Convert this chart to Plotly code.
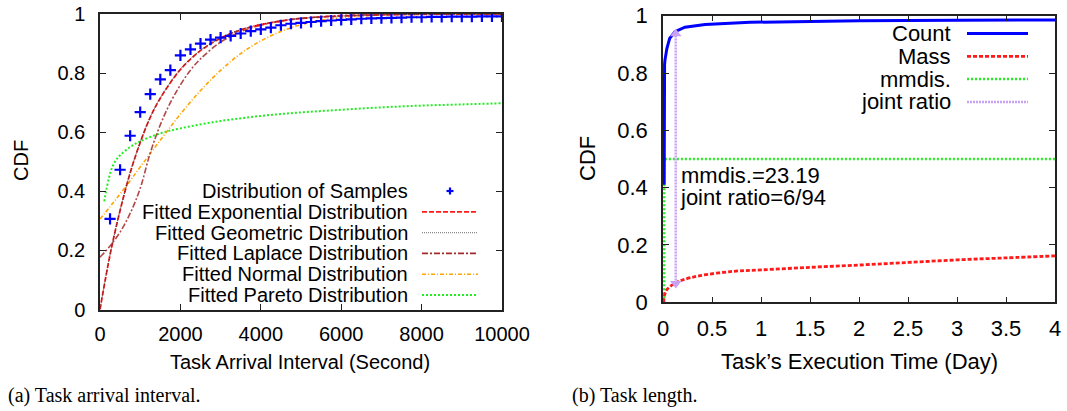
import plotly.graph_objects as go

W, H = 1067, 411

# ---------------- Left panel data: Task arrival interval ----------------
sample_x = [250 * k for k in range(1, 41)]
sample_y = [0.307, 0.473, 0.588, 0.668, 0.729, 0.779, 0.810, 0.860, 0.880, 0.900,
            0.913, 0.920, 0.926, 0.934, 0.942, 0.948, 0.954, 0.962, 0.967, 0.970,
            0.973, 0.976, 0.978, 0.980, 0.982, 0.984, 0.985, 0.986, 0.987, 0.988,
            0.989, 0.989, 0.990, 0.990, 0.991, 0.991, 0.991, 0.992, 0.992, 0.992]

expo_x = [0, 250, 500, 750, 1000, 1250, 1500, 2000, 2500, 3000, 3500, 4000, 4500, 5000, 6000, 7000, 8000, 10000]
expo_y = [0.0, 0.185, 0.335, 0.462, 0.565, 0.650, 0.715, 0.812, 0.876, 0.918, 0.946, 0.964, 0.976, 0.985, 0.993, 0.997, 0.999, 1.0]

geom_x = [0, 250, 500, 750, 1000, 1250, 1500, 2000, 2500, 3000, 3500, 4000, 4500, 5000, 6000, 7000, 8000, 10000]
geom_y = [0.0, 0.186, 0.336, 0.463, 0.566, 0.651, 0.716, 0.813, 0.877, 0.919, 0.947, 0.965, 0.977, 0.985, 0.993, 0.997, 0.999, 1.0]

lapl_x = [0, 250, 500, 750, 1000, 1250, 1500, 1750, 2000, 2250, 2500, 3000, 3500, 4000, 4500, 5000, 6000, 7000, 8000, 10000]
lapl_y = [0.177, 0.215, 0.262, 0.325, 0.41, 0.53, 0.625, 0.700, 0.760, 0.810, 0.848, 0.905, 0.940, 0.962, 0.976, 0.985, 0.995, 0.998, 0.999, 1.0]

norm_x = [0, 250, 500, 750, 1000, 1500, 2000, 2500, 3000, 3500, 4000, 4500, 5000, 5500, 6000, 7000, 8000, 10000]
norm_y = [0.306, 0.348, 0.391, 0.436, 0.482, 0.573, 0.661, 0.741, 0.809, 0.866, 0.909, 0.941, 0.964, 0.979, 0.988, 0.997, 0.999, 1.0]

pare_x = [107, 150, 232, 300, 398, 500, 750, 1000, 1500, 2000, 3000, 4000, 5000, 6000, 7000, 8000, 9000, 10000]
pare_y = [0.366, 0.40, 0.45, 0.48, 0.505, 0.522, 0.55, 0.569, 0.596, 0.613, 0.638, 0.655, 0.667, 0.676, 0.684, 0.690, 0.694, 0.698]

left_xticks = [0, 2000, 4000, 6000, 8000, 10000]
left_xticklabels = ["0", "2000", "4000", "6000", "8000", "10000"]
yticks = [0, 0.2, 0.4, 0.6, 0.8, 1]
yticklabels = ["0", "0.2", "0.4", "0.6", "0.8", "1"]

# ---------------- Right panel data: Task length ----------------
count_x = [0.012, 0.012, 0.016, 0.02, 0.027, 0.04, 0.068, 0.122, 0.224, 0.43, 0.888, 1.5, 2, 3, 4]
count_y = [0.41, 0.80, 0.83, 0.845, 0.865, 0.886, 0.921, 0.944, 0.960, 0.969, 0.977, 0.980, 0.982, 0.984, 0.985]

mass_x = [0.005, 0.01, 0.02, 0.037, 0.08, 0.122, 0.2, 0.378, 0.718, 1.0, 1.5, 2.0, 2.5, 3.0, 3.5, 4.0]
mass_y = [0.0, 0.015, 0.03, 0.043, 0.057, 0.066, 0.078, 0.093, 0.108, 0.113, 0.122, 0.130, 0.139, 0.148, 0.155, 0.162]

mmdis_x = [0.012, 0.012, 4]
mmdis_y = [0.0, 0.5, 0.5]

joint_x = [0.13, 0.13]
joint_y = [0.066, 0.937]

right_xticks = [0, 0.5, 1, 1.5, 2, 2.5, 3, 3.5, 4]
right_xticklabels = ["0", "0.5", "1", "1.5", "2", "2.5", "3", "3.5", "4"]

mmdis_label = "mmdis.=23.19"
joint_label = "joint ratio=6/94"

left_legend = ["Distribution of Samples", "Fitted Exponential Distribution",
               "Fitted Geometric Distribution", "Fitted Laplace Distribution",
               "Fitted Normal Distribution", "Fitted Pareto Distribution"]
right_legend = ["Count", "Mass", "mmdis.", "joint ratio"]

# ---------------- styling ----------------
FONT = "Liberation Sans, Arial, Helvetica, sans-serif"
C_BLUE = "#0000ff"
C_RED = "#ff1a1a"
C_GEOM = "#333333"
C_LAPL = "#a52a2a"
C_NORM = "#ffa500"
C_PARE = "#22ee22"
C_JOINT = "#c9a2f5"


def px(x):
    return x / W


def py(y):
    return 1 - y / H


fig = go.Figure()

# left traces
fig.add_trace(go.Scatter(x=pare_x, y=pare_y, mode="lines", line=dict(color=C_PARE, width=2, dash="2px,2px", shape="spline"),
                         xaxis="x", yaxis="y", showlegend=False))
fig.add_trace(go.Scatter(x=norm_x, y=norm_y, mode="lines", line=dict(color=C_NORM, width=1.6, dash="4px,2px,1px,2px", shape="spline"),
                         xaxis="x", yaxis="y", showlegend=False))
fig.add_trace(go.Scatter(x=lapl_x, y=lapl_y, mode="lines", line=dict(color=C_LAPL, width=1.6, dash="6px,2px,2px,2px", shape="spline"),
                         opacity=0.85, xaxis="x", yaxis="y", showlegend=False))
fig.add_trace(go.Scatter(x=expo_x, y=expo_y, mode="lines", line=dict(color=C_RED, width=1.8, dash="5px,2px", shape="spline"),
                         xaxis="x", yaxis="y", showlegend=False))
fig.add_trace(go.Scatter(x=geom_x, y=geom_y, mode="lines", line=dict(color=C_GEOM, width=1, dash="1px,1px", shape="spline"),
                         xaxis="x", yaxis="y", showlegend=False))
fig.add_trace(go.Scatter(x=sample_x, y=sample_y, mode="markers",
                         marker=dict(symbol="cross-thin", size=8, line=dict(color=C_BLUE, width=2.2)),
                         xaxis="x", yaxis="y", showlegend=False))

# right traces
fig.add_trace(go.Scatter(x=mmdis_x, y=mmdis_y, mode="lines", line=dict(color=C_PARE, width=2.5, dash="2px,2px"),
                         xaxis="x2", yaxis="y2", showlegend=False))
fig.add_trace(go.Scatter(x=mass_x, y=mass_y, mode="lines", line=dict(color=C_RED, width=2.8, dash="4px,2px", shape="spline"),
                         xaxis="x2", yaxis="y2", showlegend=False))
fig.add_trace(go.Scatter(x=count_x, y=count_y, mode="lines", line=dict(color=C_BLUE, width=3),
                         xaxis="x2", yaxis="y2", showlegend=False))
fig.add_trace(go.Scatter(x=joint_x, y=joint_y, mode="lines+markers",
                         line=dict(color=C_JOINT, width=2.5, dash="2px,1px"),
                         marker=dict(symbol=["triangle-down", "triangle-up"], size=10, color=C_JOINT),
                         xaxis="x2", yaxis="y2", showlegend=False))

axis_common = dict(showline=True, linecolor="#222222", linewidth=1.5, mirror="ticks", ticks="inside",
                   ticklen=6, tickcolor="#222222", showgrid=False, zeroline=False, automargin=False)

fig.update_layout(
    width=W, height=H,
    margin=dict(l=0, r=0, t=0, b=0, autoexpand=False),
    paper_bgcolor="white", plot_bgcolor="white",
    showlegend=False,
    xaxis=dict(domain=[px(100), px(502)], range=[0, 10000], tickvals=left_xticks, ticktext=left_xticklabels,
               anchor="y", tickfont=dict(family=FONT, size=20, color="black"), ticklabelstandoff=6, **axis_common),
    yaxis=dict(domain=[py(309.5), py(14)], range=[0, 1], tickvals=yticks, ticktext=yticklabels,
               anchor="x", tickfont=dict(family=FONT, size=20, color="black"), ticklabelstandoff=9, **axis_common),
    xaxis2=dict(domain=[px(663), px(1055)], range=[0, 4], tickvals=right_xticks, ticktext=right_xticklabels,
                anchor="y2", tickfont=dict(family=FONT, size=22, color="black"), ticklabelstandoff=6, **axis_common),
    yaxis2=dict(domain=[py(302.3), py(15.7)], range=[0, 1], tickvals=yticks, ticktext=yticklabels,
                anchor="x2", tickfont=dict(family=FONT, size=22, color="black"), ticklabelstandoff=9, **axis_common),
)

ann = []
shapes = []

# axis titles
ann.append(dict(text="CDF", x=px(21), y=py(161), xref="paper", yref="paper", showarrow=False,
                textangle=-90, font=dict(family=FONT, size=20, color="black"), xanchor="center", yanchor="middle"))
ann.append(dict(text="Task Arrival Interval (Second)", x=px(300), y=py(362), xref="paper", yref="paper",
                showarrow=False, font=dict(family=FONT, size=20, color="black"), xanchor="center", yanchor="middle"))
ann.append(dict(text="CDF", x=px(587), y=py(159), xref="paper", yref="paper", showarrow=False,
                textangle=-90, font=dict(family=FONT, size=22, color="black"), xanchor="center", yanchor="middle"))
ann.append(dict(text="Task’s Execution Time (Day)", x=px(859), y=py(361), xref="paper", yref="paper",
                showarrow=False, font=dict(family=FONT, size=22, color="black"), xanchor="center", yanchor="middle"))

# captions
CAP_FONT = "Liberation Serif, Times New Roman, serif"
ann.append(dict(text="(a) Task arrival interval.", x=px(6), y=py(395), xref="paper", yref="paper", showarrow=False,
                font=dict(family=CAP_FONT, size=20, color="black"), xanchor="left", yanchor="middle"))
ann.append(dict(text="(b) Task length.", x=px(570), y=py(395), xref="paper", yref="paper", showarrow=False,
                font=dict(family=CAP_FONT, size=20, color="black"), xanchor="left", yanchor="middle"))

# right panel text labels
ann.append(dict(text=mmdis_label, x=px(679), y=py(175), xref="paper", yref="paper", showarrow=False,
                font=dict(family=FONT, size=22, color="black"), xanchor="left", yanchor="middle"))
ann.append(dict(text=joint_label, x=px(678), y=py(197.5), xref="paper", yref="paper", showarrow=False,
                font=dict(family=FONT, size=22, color="black"), xanchor="left", yanchor="middle"))

# left legend
left_keys = [
    None,
    dict(color=C_RED, width=1.8, dash="5px,2px"),
    dict(color="#888888", width=1.2, dash="1px,1px"),
    dict(color=C_LAPL, width=1.6, dash="6px,2px,2px,2px"),
    dict(color=C_NORM, width=1.6, dash="4px,2px,1px,2px"),
    dict(color=C_PARE, width=2, dash="2px,2px"),
]
for i, label in enumerate(left_legend):
    yy = 191 + 20.8 * i
    ann.append(dict(text=label, x=px(410), y=py(yy), xref="paper", yref="paper", showarrow=False,
                    font=dict(family=FONT, size=20, color="black"), xanchor="right", yanchor="middle"))
    if left_keys[i] is None:
        shapes.append(dict(type="line", xref="paper", yref="paper", x0=px(446.5), x1=px(453.5), y0=py(yy), y1=py(yy),
                           line=dict(color=C_BLUE, width=2.2)))
        shapes.append(dict(type="line", xref="paper", yref="paper", x0=px(450), x1=px(450), y0=py(yy - 3.5), y1=py(yy + 3.5),
                           line=dict(color=C_BLUE, width=2.2)))
    else:
        shapes.append(dict(type="line", xref="paper", yref="paper", x0=px(422), x1=px(478), y0=py(yy), y1=py(yy),
                           line=left_keys[i]))

# right legend
right_keys = [
    dict(color=C_BLUE, width=3),
    dict(color=C_RED, width=2.8, dash="4px,2px"),
    dict(color=C_PARE, width=2.5, dash="2px,2px"),
    dict(color=C_JOINT, width=2.5, dash="2px,1px"),
]
for i, label in enumerate(right_legend):
    yy = 33.5 + 22.8 * i
    ann.append(dict(text=label, x=px(953), y=py(yy), xref="paper", yref="paper", showarrow=False,
                    font=dict(family=FONT, size=22, color="black"), xanchor="right", yanchor="middle"))
    shapes.append(dict(type="line", xref="paper", yref="paper", x0=px(967), x1=px(1028), y0=py(yy), y1=py(yy),
                       line=right_keys[i]))

fig.update_layout(annotations=ann, shapes=shapes)

fig.write_html("out.html", config={"displayModeBar": False},
               post_script="document.body.style.margin='0px';document.body.style.overflow='hidden';")
